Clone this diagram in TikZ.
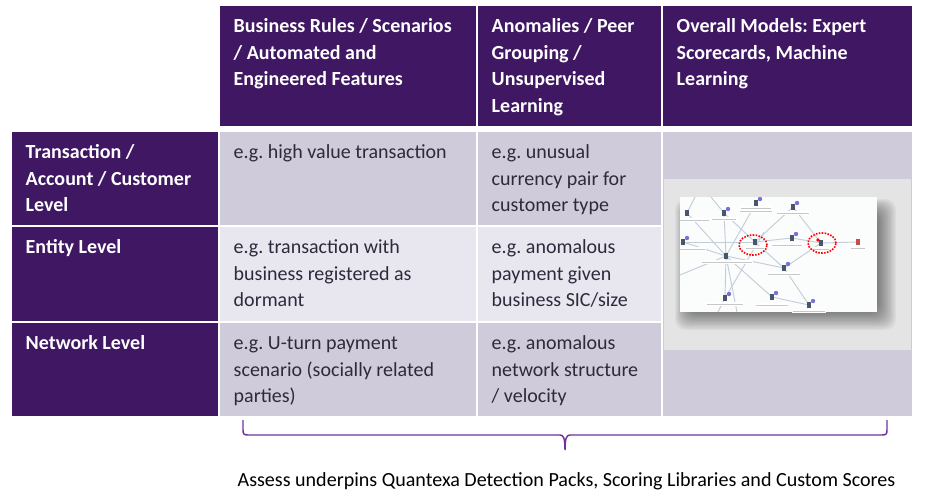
\documentclass[tikz,border=0pt]{standalone}
\usepackage{fontspec}
\setmainfont{Carlito}
\usetikzlibrary{shapes.geometric,calc}
\definecolor{hdrpurple}{HTML}{3F1763}
\definecolor{rowdark}{HTML}{CFCBDB}
\definecolor{rowlight}{HTML}{E8E6EF}
\definecolor{panelgrey}{HTML}{E4E4E4}
\definecolor{bodyink}{HTML}{2E2A3C}
\definecolor{bracepurple}{HTML}{7030A0}
\definecolor{linkgrey}{HTML}{C3CEDA}
\definecolor{iconblue}{HTML}{47566B}
\definecolor{dotpurple}{HTML}{7B6FD8}
% width and height in pixels of the reference
\newcommand{\celltext}[3]{\parbox[t][\dimexpr #2pt*3/4\relax][t]{\dimexpr (#1pt-27.5pt)*3/4\relax}{\raggedright\rule{0pt}{19.9pt}#3}}
\tikzset{
  cellbox/.style={anchor=north west,inner xsep=10.3pt,inner ysep=0pt,outer sep=0pt,
    font=\fontsize{15}{19.9}\selectfont\frenchspacing},
  hdrcell/.style={cellbox,fill=hdrpurple,text=white,font=\fontsize{15}{19.9}\selectfont\bfseries\frenchspacing},
  darkcell/.style={cellbox,fill=rowdark,text=bodyink},
  lightcell/.style={cellbox,fill=rowlight,text=bodyink},
  netnode/.style={fill=iconblue,minimum width=3.4pt,minimum height=5pt,inner sep=0pt},
  netlink/.style={linkgrey,line width=0.7pt},
  marker/.style={draw=red,densely dotted,line width=1.2pt,ellipse,inner sep=0pt,minimum width=21pt,minimum height=15pt}
}
\begin{document}
\begin{tikzpicture}[x=0.75pt,y=-0.75pt]
\useasboundingbox (0,0) rectangle (927,490);

% header row
\node (hdrrules) at (220,6) [hdrcell] {\celltext{256}{120}{Business Rules / Scenarios\\/ Automated and\\Engineered Features}};
\node (hdranom) at (478,6) [hdrcell] {\celltext{183}{120}{Anomalies / Peer\\Grouping /\\Unsupervised\\Learning}};
\node (hdrmodels) at (663,6) [hdrcell] {\celltext{249}{120}{Overall Models: Expert\\Scorecards, Machine\\Learning}};

% row headers
\node (rowtxn) at (12,132) [hdrcell] {\celltext{206}{93}{Transaction /\\Account / Customer\\Level}};
\node (rowentity) at (12,227) [hdrcell] {\celltext{206}{94}{Entity Level}};
\node (rownet) at (12,323) [hdrcell] {\celltext{206}{93}{Network Level}};

% body cells
\node (txnrules) at (220,132) [darkcell] {\celltext{256}{93}{e.g. high value transaction}};
\node (txnanom) at (478,132) [darkcell] {\celltext{183}{93}{e.g. unusual\\currency pair for\\customer type}};
\node (entrules) at (220,227) [lightcell] {\celltext{256}{94}{e.g. transaction with\\business registered as\\dormant}};
\node (entanom) at (478,227) [lightcell] {\celltext{183}{94}{e.g. anomalous\\payment given\\business SIC/size}};
\node (netrules) at (220,323) [darkcell] {\celltext{256}{93}{e.g. U-turn payment\\scenario (socially related\\parties)}};
\node (netanom) at (478,323) [darkcell] {\celltext{183}{93}{e.g. anomalous\\network structure\\/ velocity}};

% merged cell with the screenshot
\fill [rowdark] (663,132) rectangle (912,416);
\fill [panelgrey] (664,179) rectangle (911,350);
\foreach \i in {0,1,...,17}
  \fill [black,opacity=0.035,rounded corners=8pt] ({692-\i},{216-\i}) rectangle ({874+\i*1.3},{308+\i*1.3});
\fill [white!93!linkgrey] (680,197) rectangle (877,312);

\begin{scope}
\clip (680,197) rectangle (877,312);
\coordinate (hub) at (726,256);
\coordinate (perA) at (755,242);
\coordinate (shopA) at (792,238);
\coordinate (perB) at (821,243);
\coordinate (doc) at (858,242);
\coordinate (florist) at (784,268);
\coordinate (homes) at (725,298);
\coordinate (assoc) at (772,297);
\coordinate (petal) at (809,305);
\coordinate (memo) at (683,242);
\coordinate (serv) at (687,213);
\coordinate (build) at (724,213);
\coordinate (south) at (756,203);
\coordinate (super) at (793,207);
\coordinate (edgeA) at (680,275);
\coordinate (edgeB) at (737,312);
\coordinate (edgeC) at (695,197);
\coordinate (edgeD) at (711,197);
\coordinate (edgeE) at (718,312);
\coordinate (edgeF) at (764,232);
\foreach \a/\b in {hub/memo,hub/serv,hub/build,hub/south,hub/homes,hub/florist,hub/assoc,hub/edgeA,hub/edgeB,
  perA/build,perA/super,perA/shopA,perA/florist,shopA/perB,florist/perB,super/perB,perB/doc,florist/petal,assoc/petal,
  serv/edgeC,build/edgeD,homes/edgeE,homes/edgeF,memo/perA}
  \draw [netlink] (\a) -- (\b);
% unreadable captions under the icons
\foreach \x/\y/\w in {690/220/20,724/219/13,756/208/16,756/211/17,793/213/17,692/249/14,727/262/26,755/248/10,787/245/16,
  820/249/10,858/248/8,784/274/17,725/304/19,772/305/17,809/311/17}{
  \fill [white] ({\x-\w},{\y-2}) rectangle ({\x+\w},{\y+2});
  \draw [black!22,line width=0.6pt] ({\x-\w+1},\y) -- ({\x+\w-1},\y);
}
\foreach \n in {hub,perA,shopA,perB,florist,homes,assoc,petal,memo,serv,build,south,super}
  \node at (\n) [netnode] {};
\node at (doc) [netnode,fill=red!70!black!70] {};
\foreach \n in {shopA,florist,homes,assoc,petal,memo,build,south,super}
  \fill [dotpurple] ($(\n)+(4,-4)$) circle (2.2);
\fill [red] (818,240) circle (1.8);
\end{scope}
\node (ringA) at (753,245) [marker] {};
\node (ringB) at (822,243) [marker] {};

% brace and caption
\coordinate (braceL) at (243,420);
\coordinate (braceR) at (887,420);
\coordinate (braceTip) at (565,450);
\draw [bracepurple,line width=1.1pt] (braceL) -- (243,430) .. controls (243,434) and (244,435) .. (248,435)
  -- (560,435) .. controls (563,435) and (565,437) .. (braceTip)
  .. controls (565,437) and (567,435) .. (570,435)
  -- (882,435) .. controls (886,435) and (887,434) .. (887,430) -- (braceR);
\node (caption) at (566.5,481) [text=black,inner sep=0pt,font=\fontsize{15.05}{18}\selectfont\frenchspacing] {Assess underpins Quantexa Detection Packs, Scoring Libraries and Custom Scores};
\end{tikzpicture}
\end{document}
